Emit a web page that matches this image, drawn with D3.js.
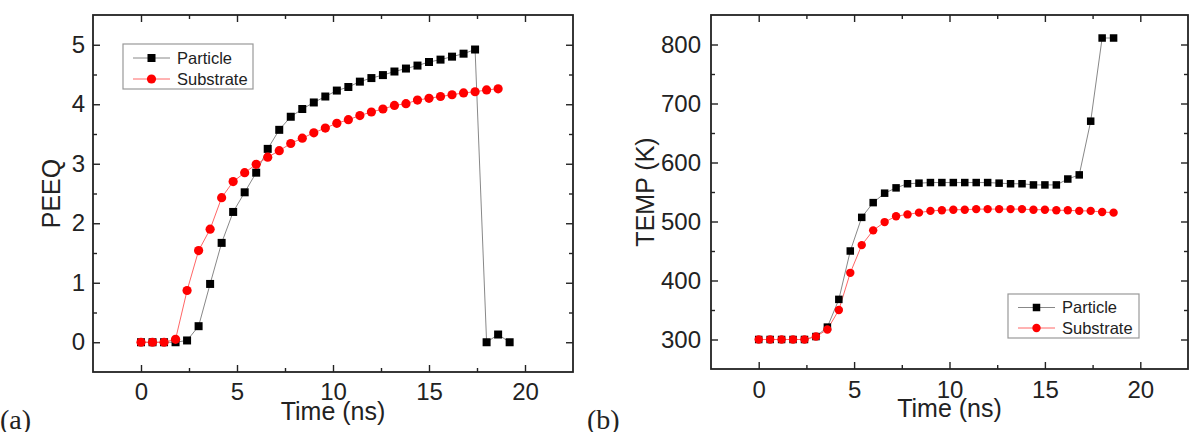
<!DOCTYPE html>
<html>
<head>
<meta charset="utf-8">
<script src="https://cdn.jsdelivr.net/npm/d3@7"></script>
<style>
  body { margin: 0; background: #fff; }
  text { font-family: "Liberation Sans", Arial, sans-serif; fill: #222; }
</style>
</head>
<body>
<script>
var svg_width = 1204;
var svg_height = 432;

// time steps (ns)
var time = [0, 0.6, 1.2, 1.8, 2.4, 3.0, 3.6, 4.2, 4.8, 5.4, 6.0, 6.6, 7.2, 7.8, 8.4, 9.0, 9.6,
            10.2, 10.8, 11.4, 12.0, 12.6, 13.2, 13.8, 14.4, 15.0, 15.6, 16.2, 16.8, 17.4, 18.0, 18.6, 19.2];

var peeqParticle = [0, 0, 0, 0, 0.03, 0.27, 0.98, 1.67, 2.19, 2.52, 2.85, 3.25, 3.57, 3.79, 3.92, 4.03, 4.13,
                    4.23, 4.29, 4.38, 4.44, 4.49, 4.55, 4.60, 4.65, 4.71, 4.75, 4.80, 4.85, 4.92, 0.0, 0.13, 0.0];
var peeqSubstrate = [0, 0, 0, 0.05, 0.87, 1.54, 1.90, 2.43, 2.70, 2.85, 2.99, 3.11, 3.22, 3.34, 3.43, 3.52,
                     3.60, 3.68, 3.74, 3.81, 3.87, 3.92, 3.98, 4.01, 4.07, 4.10, 4.13, 4.16, 4.19, 4.21, 4.24, 4.26];

var tempParticle = [300, 300, 300, 300, 300, 305, 321, 368, 450, 507, 532, 548, 557, 564, 565, 566,
                    566, 566, 566, 566, 566, 565, 564, 564, 562, 562, 562, 572, 579, 670, 811, 811];
var tempSubstrate = [300, 300, 300, 300, 300, 305, 317, 350, 413, 460, 485, 499, 509, 512, 515, 518,
                     519, 520, 520, 521, 521, 521, 521, 521, 520, 520, 519, 519, 518, 518, 516, 515];

var xTicks = [0, 5, 10, 15, 20];
var xMinor = [2.5, 7.5, 12.5, 17.5];
var peeqTicks = [0, 1, 2, 3, 4, 5];
var peeqMinor = [0.5, 1.5, 2.5, 3.5, 4.5];
var tempTicks = [300, 400, 500, 600, 700, 800];
var tempMinor = [350, 450, 550, 650, 750];

var seriesNames = ['Particle', 'Substrate'];

var svg = d3.select('body').append('svg')
            .attr('width', svg_width)
            .attr('height', svg_height);

function pairs(ys) {
  return ys.map(function(v, i) { return [time[i], v]; });
}

function drawPanel(p) {
  var x = d3.scaleLinear().domain([-2.5, 22.5]).range([p.left, p.right]);
  var y = d3.scaleLinear().domain(p.yDomain).range([p.bottom, p.top]);
  var g = svg.append('g');
  var fmt = d3.format('d');

  // ticks on all four sides, pointing inward
  function addAxis(axis, tx, ty, labels) {
    var a = g.append('g')
      .attr('transform', 'translate(' + tx + ',' + ty + ')')
      .attr('color', '#222')
      .call(axis);
    a.select('.domain').remove();
    a.selectAll('line').attr('stroke-width', 1.4);
    a.selectAll('text').attr('font-size', 24).attr('font-family', '"Liberation Sans", Arial, sans-serif').attr('fill', '#222');
    if (!labels) a.selectAll('text').remove();
  }
  addAxis(d3.axisBottom(x).tickValues(xTicks).tickFormat(fmt).tickSize(-7).tickPadding(p.xPad).tickSizeOuter(0), 0, p.bottom, true);
  addAxis(d3.axisBottom(x).tickValues(xMinor).tickSize(-4).tickSizeOuter(0), 0, p.bottom, false);
  addAxis(d3.axisTop(x).tickValues(xTicks).tickSize(-7).tickSizeOuter(0), 0, p.top, false);
  addAxis(d3.axisTop(x).tickValues(xMinor).tickSize(-4).tickSizeOuter(0), 0, p.top, false);
  addAxis(d3.axisLeft(y).tickValues(p.yTicks).tickFormat(fmt).tickSize(-7).tickPadding(p.yPad).tickSizeOuter(0), p.left, 0, true);
  addAxis(d3.axisLeft(y).tickValues(p.yMinor).tickSize(-4).tickSizeOuter(0), p.left, 0, false);
  addAxis(d3.axisRight(y).tickValues(p.yTicks).tickSize(-7).tickSizeOuter(0), p.right, 0, false);
  addAxis(d3.axisRight(y).tickValues(p.yMinor).tickSize(-4).tickSizeOuter(0), p.right, 0, false);

  g.append('rect')
    .attr('x', p.left).attr('y', p.top)
    .attr('width', p.right - p.left).attr('height', p.bottom - p.top)
    .attr('fill', 'none').attr('stroke', '#222').attr('stroke-width', 1.8);

  var line = d3.line().x(function(d) { return x(d[0]); }).y(function(d) { return y(d[1]); });
  var part = pairs(p.particle);
  var sub = pairs(p.substrate);

  g.append('path').attr('d', line(part)).attr('fill', 'none').attr('stroke', '#888').attr('stroke-width', 1);
  g.append('path').attr('d', line(sub)).attr('fill', 'none').attr('stroke', '#f66').attr('stroke-width', 1);

  g.selectAll('.sq').data(part).enter().append('rect')
    .attr('x', function(d) { return x(d[0]) - p.sq / 2; })
    .attr('y', function(d) { return y(d[1]) - p.sq / 2; })
    .attr('width', p.sq).attr('height', p.sq)
    .attr('fill', '#000');
  g.selectAll('.ci').data(sub).enter().append('circle')
    .attr('cx', function(d) { return x(d[0]); })
    .attr('cy', function(d) { return y(d[1]); })
    .attr('r', p.r)
    .attr('fill', '#f00');

  // legend
  var L = p.legend;
  g.append('rect')
    .attr('x', L.x).attr('y', L.y).attr('width', L.w).attr('height', L.h)
    .attr('fill', '#fff').attr('stroke', '#999').attr('stroke-width', 1.2);
  seriesNames.forEach(function(name, i) {
    var ry = L.y + L.rows[i];
    var col = i === 0 ? '#888' : '#f66';
    g.append('line').attr('x1', L.x + 10).attr('x2', L.x + 47).attr('y1', ry).attr('y2', ry)
      .attr('stroke', col).attr('stroke-width', 1);
    if (i === 0) {
      g.append('rect').attr('x', L.x + 28.5 - p.sq / 2).attr('y', ry - p.sq / 2)
        .attr('width', p.sq).attr('height', p.sq).attr('fill', '#000');
    } else {
      g.append('circle').attr('cx', L.x + 28.5).attr('cy', ry).attr('r', p.r).attr('fill', '#f00');
    }
    g.append('text').attr('x', L.x + 54).attr('y', ry).attr('dy', '0.35em')
      .attr('font-size', 16.5).text(name);
  });

  // axis titles
  g.append('text')
    .attr('x', (p.left + p.right) / 2).attr('y', p.xLabelY)
    .attr('text-anchor', 'middle').attr('font-size', 25)
    .text('Time (ns)');
  g.append('text')
    .attr('transform', 'translate(' + p.yLabelX + ',' + (p.top + p.bottom) / 2 + ') rotate(-90)')
    .attr('text-anchor', 'middle').attr('font-size', 25)
    .text(p.yLabel);

  svg.append('text')
    .attr('x', p.tagX).attr('y', 429)
    .attr('font-size', 28)
    .style('font-family', '"Liberation Serif", "Times New Roman", serif')
    .text(p.tag);
}

drawPanel({
  left: 93, right: 573, top: 15, bottom: 372,
  yDomain: [-0.5, 5.5], yTicks: peeqTicks, yMinor: peeqMinor,
  xPad: 11, yPad: 8,
  particle: peeqParticle, substrate: peeqSubstrate,
  sq: 8, r: 4.6,
  legend: { x: 123, y: 44, w: 130, h: 45, rows: [14, 35] },
  xLabelY: 420, yLabelX: 60, yLabel: 'PEEQ',
  tag: '(a)', tagX: 0
});

drawPanel({
  left: 711, right: 1188, top: 15, bottom: 369,
  yDomain: [250, 850], yTicks: tempTicks, yMinor: tempMinor,
  xPad: 12, yPad: 10,
  particle: tempParticle, substrate: tempSubstrate,
  sq: 7.5, r: 4.2,
  legend: { x: 1008, y: 294, w: 131, h: 44, rows: [13.5, 34] },
  xLabelY: 417, yLabelX: 654, yLabel: 'TEMP (K)',
  tag: '(b)', tagX: 587
});
</script>
</body>
</html>
